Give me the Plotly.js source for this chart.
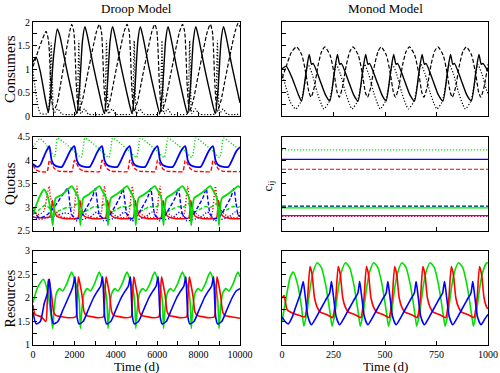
<!DOCTYPE html>
<html><head><meta charset="utf-8">
<script src="https://cdn.plot.ly/plotly-3.0.1.min.js"></script>
<style>html,body{margin:0;padding:0;background:#fff}#c{width:500px;height:373px}</style>
</head><body><div id="c"></div>
<script>
// ---------- Droop model: consumers ----------
const droopConsDashT=[0,300,630,750,900,1000,1150,1400,1650,1800,
1870,1970,2100,2200,2370,2620,2870,3070,
3205,3305,3435,3535,3705,3955,4205,4405,
4545,4645,4775,4875,5045,5295,5545,5745,
5885,5985,6115,6215,6385,6635,6885,7085,
7225,7325,7455,7555,7725,7975,8225,8425,
8565,8665,8795,8895,9065,9315,9565,9765,
9905,10000];
const droopConsDash=[1.05,1.45,1.8,1.6,0.35,0.12,0.25,0.85,1.5,1.85,
1.95,1.8,0.6,0.1,0.3,0.85,1.4,1.8,
1.95,1.8,0.6,0.1,0.3,0.85,1.4,1.8,
1.95,1.8,0.6,0.1,0.3,0.85,1.4,1.8,
1.95,1.8,0.6,0.1,0.3,0.85,1.4,1.8,
1.95,1.8,0.6,0.1,0.3,0.85,1.4,1.8,
1.95,1.8,0.6,0.1,0.3,0.85,1.4,1.8,
1.97,1.9];
const droopConsSolidT=[0,150,350,600,740,850,1000,1175,1300,1600,1900,
2110,2250,2390,2510,2630,2920,3220,
3445,3585,3725,3845,3965,4255,4555,
4785,4925,5065,5185,5305,5595,5895,
6125,6265,6405,6525,6645,6935,7235,
7465,7605,7745,7865,7985,8275,8575,
8805,8945,9085,9205,9325,9615,9915,
10000];
const droopConsSolid=[1.15,1.25,0.95,0.35,0.08,0.45,1.3,1.85,1.7,1.05,0.45,
0.05,0.6,1.6,1.9,1.7,1.05,0.45,
0.05,0.6,1.6,1.9,1.7,1.05,0.45,
0.05,0.6,1.6,1.9,1.7,1.05,0.45,
0.05,0.6,1.6,1.9,1.7,1.05,0.45,
0.05,0.6,1.6,1.9,1.7,1.05,0.45,
0.05,0.6,1.6,1.9,1.7,1.05,0.45,
0.28];
const droopConsDotT=[0,150,350,700,820,880,940,1010,1200,1400,1700,
2110,2170,2215,2260,2320,2490,2670,2970,
3445,3505,3550,3595,3655,3825,4005,4305,
4785,4845,4890,4935,4995,5165,5345,5645,
6125,6185,6230,6275,6335,6505,6685,6985,
7465,7525,7570,7615,7675,7845,8025,8325,
8805,8865,8910,8955,9015,9185,9365,9665,
10000];
const droopConsDot=[0.95,0.45,0.06,0.05,0.7,1.55,0.7,0.06,0.15,0.04,0.03,
0.05,0.7,1.6,0.7,0.05,0.15,0.04,0.03,
0.05,0.7,1.6,0.7,0.05,0.15,0.04,0.03,
0.05,0.7,1.6,0.7,0.05,0.15,0.04,0.03,
0.05,0.7,1.6,0.7,0.05,0.15,0.04,0.03,
0.05,0.7,1.6,0.7,0.05,0.15,0.04,0.03,
0.05,0.7,1.6,0.7,0.05,0.15,0.04,0.03,
0.04];

// ---------- Droop model: quotas ----------
const qBlueSolidT=[0,200,350,500,650,790,900,1030,1250,1400,1600,1800,
2000,2120,2250,2500,2740,2940,3140,
3335,3455,3585,3835,4075,4275,4475,
4675,4795,4925,5175,5415,5615,5815,
6015,6135,6265,6515,6755,6955,7155,
7355,7475,7605,7855,8095,8295,8495,
8695,8815,8945,9195,9435,9635,9835,
10000];
const qBlueSolid=[3.92,3.86,3.9,4.05,4.2,4.3,4.0,3.9,3.86,3.86,4.02,4.2,
4.3,4.0,3.9,3.86,3.86,4.02,4.2,
4.3,4.0,3.9,3.86,3.86,4.02,4.2,
4.3,4.0,3.9,3.86,3.86,4.02,4.2,
4.3,4.0,3.9,3.86,3.86,4.02,4.2,
4.3,4.0,3.9,3.86,3.86,4.02,4.2,
4.3,4.0,3.9,3.86,3.86,4.02,4.2,
4.28];
const qRedDashT=[0,150,350,680,790,850,1040,1240,1700,
1880,2000,2060,2250,2450,2900,
3215,3335,3395,3585,3785,4235,
4555,4675,4735,4925,5125,5575,
5895,6015,6075,6265,6465,6915,
7235,7355,7415,7605,7805,8255,
8575,8695,8755,8945,9145,9595,
10000];
const qRedDash=[3.9,3.8,3.76,3.76,4.0,3.97,3.82,3.77,3.76,
3.76,4.0,3.97,3.82,3.77,3.76,
3.76,4.0,3.97,3.82,3.77,3.76,
3.76,4.0,3.97,3.82,3.77,3.76,
3.76,4.0,3.97,3.82,3.77,3.76,
3.76,4.0,3.97,3.82,3.77,3.76,
3.76,4.0,3.97,3.82,3.77,3.76,
3.76];
const qGreenDotT=[0,330,600,900,1050,1120,
1175,1575,1975,2325,2425,
2510,2910,3310,3660,3760,
3845,4245,4645,4995,5095,
5185,5585,5985,6335,6435,
6525,6925,7325,7675,7775,
7865,8265,8665,9015,9115,
9205,9605,10000];
const qGreenDot=[4.28,4.46,4.35,4.15,4.08,4.3,
4.47,4.35,4.2,4.06,4.25,
4.47,4.35,4.2,4.06,4.25,
4.47,4.35,4.2,4.06,4.25,
4.47,4.35,4.2,4.06,4.25,
4.47,4.35,4.2,4.06,4.25,
4.47,4.35,4.2,4.06,4.25,
4.47,4.35,4.22];
const qGreenSolidT=[0,200,400,535,700,870,955,1005,1100,1400,1650,
1870,2020,2170,2250,2290,2340,2430,2670,2970,
3205,3355,3505,3585,3625,3675,3765,4005,4305,
4545,4695,4845,4925,4965,5015,5105,5345,5645,
5885,6035,6185,6265,6305,6355,6445,6685,6985,
7225,7375,7525,7605,7645,7695,7785,8025,8325,
8565,8715,8865,8945,8985,9035,9125,9365,9665,
9905,10000];
const qGreenSolid=[2.85,3.1,3.3,3.38,3.25,2.9,2.62,2.95,3.2,3.27,3.37,
3.45,3.35,3.22,2.9,2.62,2.95,3.2,3.27,3.37,
3.45,3.35,3.22,2.9,2.62,2.95,3.2,3.27,3.37,
3.45,3.35,3.22,2.9,2.62,2.95,3.2,3.27,3.37,
3.45,3.35,3.22,2.9,2.62,2.95,3.2,3.27,3.37,
3.45,3.35,3.22,2.9,2.62,2.95,3.2,3.27,3.37,
3.45,3.35,3.22,2.9,2.62,2.95,3.2,3.27,3.37,
3.45,3.42];
const qBlueDashT=[0,300,700,1100,1400,1675,1775,
1870,2070,2270,2570,2870,3010,3110,
3205,3405,3605,3905,4205,4345,4445,
4545,4745,4945,5245,5545,5685,5785,
5885,6085,6285,6585,6885,7025,7125,
7225,7425,7625,7925,8225,8365,8465,
8565,8765,8965,9265,9565,9705,9805,
9905,10000];
const qBlueDash=[2.95,2.78,2.85,3.05,3.25,3.4,3.1,
2.85,2.76,2.78,2.98,3.22,3.4,3.1,
2.85,2.76,2.78,2.98,3.22,3.4,3.1,
2.85,2.76,2.78,2.98,3.22,3.4,3.1,
2.85,2.76,2.78,2.98,3.22,3.4,3.1,
2.85,2.76,2.78,2.98,3.22,3.4,3.1,
2.85,2.76,2.78,2.98,3.22,3.4,3.1,
2.85,2.8];
const qRedDotT=[0,200,500,700,780,850,1050,1300,1600,
1870,1970,2070,2120,2190,2370,2670,2970,
3205,3305,3405,3455,3525,3705,4005,4305,
4545,4645,4745,4795,4865,5045,5345,5645,
5885,5985,6085,6135,6205,6385,6685,6985,
7225,7325,7425,7475,7545,7725,8025,8325,
8565,8665,8765,8815,8885,9065,9365,9665,
9905,10000];
const qRedDot=[3.0,2.85,2.9,3.3,3.45,3.2,2.95,2.82,2.78,
2.8,2.9,3.3,3.45,3.2,2.95,2.82,2.78,
2.8,2.9,3.3,3.45,3.2,2.95,2.82,2.78,
2.8,2.9,3.3,3.45,3.2,2.95,2.82,2.78,
2.8,2.9,3.3,3.45,3.2,2.95,2.82,2.78,
2.8,2.9,3.3,3.45,3.2,2.95,2.82,2.78,
2.8,2.9,3.3,3.45,3.2,2.95,2.82,2.78,
2.8,2.9];
const qRedSolidT=[0,300,800,900,940,1020,1140,1440,
1870,2170,2230,2270,2350,2470,2770,
3205,3505,3565,3605,3685,3805,4105,
4545,4845,4905,4945,5025,5145,5445,
5885,6185,6245,6285,6365,6485,6785,
7225,7525,7585,7625,7705,7825,8125,
8565,8865,8925,8965,9045,9165,9465,
9905,10000];
const qRedSolid=[2.8,2.78,2.8,3.0,3.15,2.95,2.82,2.77,
2.76,2.78,3.0,3.15,2.95,2.82,2.77,
2.76,2.78,3.0,3.15,2.95,2.82,2.77,
2.76,2.78,3.0,3.15,2.95,2.82,2.77,
2.76,2.78,3.0,3.15,2.95,2.82,2.77,
2.76,2.78,3.0,3.15,2.95,2.82,2.77,
2.76,2.78,3.0,3.15,2.95,2.82,2.77,
2.76,2.76];
const qGreenDashT=[0,300,600,850,955,1050,1350,1650,
1870,2170,2250,2290,2370,2670,2970,
3205,3505,3585,3625,3705,4005,4305,
4545,4845,4925,4965,5045,5345,5645,
5885,6185,6265,6305,6385,6685,6985,
7225,7525,7605,7645,7725,8025,8325,
8565,8865,8945,8985,9065,9365,9665,
9905,10000];
const qGreenDash=[2.85,2.95,3.05,2.95,2.75,2.88,2.95,3.0,
3.0,3.08,2.95,2.75,2.88,2.95,3.02,
3.0,3.08,2.95,2.75,2.88,2.95,3.02,
3.0,3.08,2.95,2.75,2.88,2.95,3.02,
3.0,3.08,2.95,2.75,2.88,2.95,3.02,
3.0,3.08,2.95,2.75,2.88,2.95,3.02,
3.0,3.08,2.95,2.75,2.88,2.95,3.02,
3.0,3.02];
const qBlueDotT=[0,300,700,1100,1500,
1870,2070,2370,2770,3070,
3205,3405,3705,4105,4405,
4545,4745,5045,5445,5745,
5885,6085,6385,6785,7085,
7225,7425,7725,8125,8425,
8565,8765,9065,9465,9765,
9905,10000];
const qBlueDot=[2.8,2.75,2.78,2.82,2.88,
2.85,2.72,2.74,2.8,2.9,
2.85,2.72,2.74,2.8,2.9,
2.85,2.72,2.74,2.8,2.9,
2.85,2.72,2.74,2.8,2.9,
2.85,2.72,2.74,2.8,2.9,
2.85,2.72,2.74,2.8,2.9,
2.85,2.8];

// ---------- Droop model: resources ----------
const rGreenT=[0,200,500,700,880,950,1030,1130,1280,1430,1630,1780,
1870,2020,2170,2240,2290,2370,2470,2620,2770,2970,3120,
3205,3355,3505,3575,3625,3705,3805,3955,4105,4305,4455,
4545,4695,4845,4915,4965,5045,5145,5295,5445,5645,5795,
5885,6035,6185,6255,6305,6385,6485,6635,6785,6985,7135,
7225,7375,7525,7595,7645,7725,7825,7975,8125,8325,8475,
8565,8715,8865,8935,8985,9065,9165,9315,9465,9665,9815,
9905,10000];
const rGreen=[1.9,2.2,2.4,2.15,1.6,1.35,1.8,2.1,2.2,2.15,2.3,2.48,
2.55,2.38,2.15,1.9,1.35,1.8,2.1,2.2,2.15,2.3,2.48,
2.55,2.38,2.15,1.9,1.35,1.8,2.1,2.2,2.15,2.3,2.48,
2.55,2.38,2.15,1.9,1.35,1.8,2.1,2.2,2.15,2.3,2.48,
2.55,2.38,2.15,1.9,1.35,1.8,2.1,2.2,2.15,2.3,2.48,
2.55,2.38,2.15,1.9,1.35,1.8,2.1,2.2,2.15,2.3,2.48,
2.55,2.38,2.15,1.9,1.35,1.8,2.1,2.2,2.15,2.3,2.48,
2.55,2.45];
const rRedT=[0,100,400,620,690,740,810,900,1000,1100,1400,1700,
2070,2130,2195,2270,2370,2470,2570,2870,3170,
3405,3465,3530,3605,3705,3805,3905,4205,4505,
4745,4805,4870,4945,5045,5145,5245,5545,5845,
6085,6145,6210,6285,6385,6485,6585,6885,7185,
7425,7485,7550,7625,7725,7825,7925,8225,8525,
8765,8825,8890,8965,9065,9165,9265,9565,9865,
10000];
const rRed=[1.85,1.65,1.6,1.5,1.95,2.4,2.3,2.05,1.7,1.63,1.6,1.58,
1.6,2.0,2.45,2.3,2.05,1.7,1.63,1.6,1.58,
1.6,2.0,2.45,2.3,2.05,1.7,1.63,1.6,1.58,
1.6,2.0,2.45,2.3,2.05,1.7,1.63,1.6,1.58,
1.6,2.0,2.45,2.3,2.05,1.7,1.63,1.6,1.58,
1.6,2.0,2.45,2.3,2.05,1.7,1.63,1.6,1.58,
1.6,2.0,2.45,2.3,2.05,1.7,1.63,1.6,1.58,
1.57];
const rBlueT=[0,150,350,550,700,760,800,850,920,1000,1200,1450,1700,1850,
1930,2000,2030,2070,2130,2220,2420,2670,2920,3120,
3265,3335,3365,3405,3465,3555,3755,4005,4255,4455,
4605,4675,4705,4745,4805,4895,5095,5345,5595,5795,
5945,6015,6045,6085,6145,6235,6435,6685,6935,7135,
7285,7355,7385,7425,7485,7575,7775,8025,8275,8475,
8625,8695,8725,8765,8825,8915,9115,9365,9615,9815,
10000];
const rBlue=[1.7,1.45,1.5,1.9,2.1,2.35,2.4,1.9,1.55,1.45,1.5,1.75,2.0,2.15,
2.25,2.4,2.45,2.1,1.6,1.45,1.5,1.75,2.0,2.15,
2.25,2.4,2.45,2.1,1.6,1.45,1.5,1.75,2.0,2.15,
2.25,2.4,2.45,2.1,1.6,1.45,1.5,1.75,2.0,2.15,
2.25,2.4,2.45,2.1,1.6,1.45,1.5,1.75,2.0,2.15,
2.25,2.4,2.45,2.1,1.6,1.45,1.5,1.75,2.0,2.15,
2.25,2.4,2.45,2.1,1.6,1.45,1.5,1.75,2.0,2.15,
2.2];

// ---------- Monod model: consumers ----------
const monConsDashT=[0,20,45,
71,96,116,131,141,156,176,193,
208,233,253,268,278,293,313,330,
345,370,390,405,415,430,450,467,
481,506,526,541,551,566,586,603,
619,644,664,679,689,704,724,741,
757,782,802,817,827,842,862,879,
895,920,940,955,965,980,1000];
const monConsDash=[0.8,1.05,1.35,
1.47,1.3,0.9,0.5,0.4,0.6,1.1,1.38,
1.47,1.3,0.9,0.5,0.4,0.6,1.1,1.38,
1.47,1.3,0.9,0.5,0.4,0.6,1.1,1.38,
1.47,1.3,0.9,0.5,0.4,0.6,1.1,1.38,
1.47,1.3,0.9,0.5,0.4,0.6,1.1,1.38,
1.47,1.3,0.9,0.5,0.4,0.6,1.1,1.38,
1.47,1.3,0.9,0.5,0.4,0.6,1.1];
const monConsSolidT=[0,20,50,80,
95,116,132,143,151,181,211,
232,253,269,280,288,318,348,
369,390,406,417,425,455,485,
505,526,542,553,561,591,621,
643,664,680,691,699,729,759,
781,802,818,829,837,867,897,
919,940,956,967,975,1000];
const monConsSolid=[1.0,1.06,0.8,0.45,
0.32,0.9,1.31,1.1,1.12,0.8,0.45,
0.32,0.9,1.31,1.1,1.12,0.8,0.45,
0.32,0.9,1.31,1.1,1.12,0.8,0.45,
0.32,0.9,1.31,1.1,1.12,0.8,0.45,
0.32,0.9,1.31,1.1,1.12,0.8,0.45,
0.32,0.9,1.31,1.1,1.12,0.8,0.45,
0.32,0.9,1.31,1.1,1.12,0.95];
const monConsDotT=[0,20,40,
66,91,111,126,146,171,191,
203,228,248,263,283,308,328,
340,365,385,400,420,445,465,
476,501,521,536,556,581,601,
614,639,659,674,694,719,739,
752,777,797,812,832,857,877,
890,915,935,950,970,995,1000];
const monConsDot=[0.9,0.6,0.3,
0.15,0.3,0.7,1.1,0.9,0.5,0.25,
0.15,0.3,0.7,1.1,0.9,0.5,0.25,
0.15,0.3,0.7,1.1,0.9,0.5,0.25,
0.15,0.3,0.7,1.1,0.9,0.5,0.25,
0.15,0.3,0.7,1.1,0.9,0.5,0.25,
0.15,0.3,0.7,1.1,0.9,0.5,0.25,
0.15,0.3,0.7,1.1,0.9,0.52,0.48];

// ---------- Monod model: c_ij (constant) ----------
const cijNames=['greenDot','blueSolid','redDash','blueDash','greenSolid','greenDash','redDot','blueDot','redSolid'];
const cijValues=[4.22,4.02,3.81,3.03,2.99,3.02,2.82,2.815,2.825];

// ---------- Monod model: resources ----------
const monResRedT=[0,10,25,50,90,
111,124,136,146,158,171,186,216,246,
248,261,273,283,295,308,323,353,383,
385,398,410,420,432,445,460,490,520,
522,535,547,557,569,582,597,627,657,
659,672,684,694,706,719,734,764,794,
797,810,822,832,844,857,872,902,932,
934,947,959,969,981,994,1000];
const monResRed=[2.0,2.05,1.75,1.68,1.62,
1.6,2.0,2.67,2.5,2.0,1.8,1.7,1.65,1.58,
1.6,2.0,2.67,2.5,2.0,1.8,1.7,1.65,1.58,
1.6,2.0,2.67,2.5,2.0,1.8,1.7,1.65,1.58,
1.6,2.0,2.67,2.5,2.0,1.8,1.7,1.65,1.58,
1.6,2.0,2.67,2.5,2.0,1.8,1.7,1.65,1.58,
1.6,2.0,2.67,2.5,2.0,1.8,1.7,1.65,1.58,
1.6,2.0,2.67,2.5,2.0,1.8,1.77];
const monResBlueT=[0,15,30,50,70,90,
103,111,126,143,161,186,211,231,
240,248,263,280,298,323,348,368,
377,385,400,417,435,460,485,505,
514,522,537,554,572,597,622,642,
651,659,674,691,709,734,759,779,
789,797,812,829,847,872,897,917,
926,934,949,966,984,1000];
const monResBlue=[1.6,1.5,1.45,1.6,1.85,2.1,
2.35,2.1,1.6,1.43,1.55,1.75,1.95,2.1,
2.35,2.1,1.6,1.43,1.55,1.75,1.95,2.1,
2.35,2.1,1.6,1.43,1.55,1.75,1.95,2.1,
2.35,2.1,1.6,1.43,1.55,1.75,1.95,2.1,
2.35,2.1,1.6,1.43,1.55,1.75,1.95,2.1,
2.35,2.1,1.6,1.43,1.55,1.75,1.95,2.1,
2.35,2.1,1.6,1.43,1.55,1.65];
const monResGreenT=[0,20,40,55,75,95,
106,121,136,151,171,191,211,226,236,
243,258,273,288,308,328,348,363,373,
380,395,410,425,445,465,485,500,510,
517,532,547,562,582,602,622,637,647,
654,669,684,699,719,739,759,774,784,
792,807,822,837,857,877,897,912,922,
929,944,959,974,994,1000];
const monResGreen=[1.5,2.0,2.45,2.55,2.3,1.8,
1.4,1.7,2.2,2.55,2.75,2.65,2.3,1.9,1.6,
1.4,1.7,2.2,2.55,2.75,2.65,2.3,1.9,1.6,
1.4,1.7,2.2,2.55,2.75,2.65,2.3,1.9,1.6,
1.4,1.7,2.2,2.55,2.75,2.65,2.3,1.9,1.6,
1.4,1.7,2.2,2.55,2.75,2.65,2.3,1.9,1.6,
1.4,1.7,2.2,2.55,2.75,2.65,2.3,1.9,1.6,
1.4,1.7,2.2,2.55,2.75,2.74];

// ---------- tick labels ----------
const consTickVals=[0,0.25,0.5,0.75,1,1.25,1.5,1.75,2];
const consTickText=['0','','0.5','','1','','1.5','','2'];
const quotaTickVals=[2.5,2.75,3,3.25,3.5,3.75,4,4.25,4.5];
const quotaTickText=['2.5','','3','','3.5','','4','','4.5'];
const resTickVals=[1,1.25,1.5,1.75,2,2.25,2.5,2.75,3];
const resTickText=['1','','1.5','','2','','2.5','','3'];
const droopTimeTickVals=[0,1000,2000,3000,4000,5000,6000,7000,8000,9000,10000];
const droopTimeTickText=['0','','2000','','4000','','6000','','8000','','10000'];
const monodTimeTickVals=[0,250,500,750,1000];
const monodTimeTickText=['0','250','500','750','1000'];

// ---------- build ----------
const RED='#ff0000', GREEN='#00e000', BLUE='#0000ff', BLACK='#000000';
const DASH='4px,2px', DOT='1.2px,1.8px';
function tr(x,y,color,dash,xa,ya,w){
  const d = dash==='dash'?DASH:(dash==='dot'?DOT:'solid');
  return {x:x,y:y,xaxis:xa,yaxis:ya,mode:'lines',hoverinfo:'skip',
    line:{color:color,dash:d,width:w||1.4,shape:'spline',smoothing:0.6}};
}
const traces=[
  tr(droopConsDashT,droopConsDash,BLACK,'dash','x','y',1.2),
  tr(droopConsSolidT,droopConsSolid,BLACK,'solid','x','y',1.4),
  tr(droopConsDotT,droopConsDot,BLACK,'dot','x','y',1.2),
  tr(qGreenDotT,qGreenDot,GREEN,'dot','x3','y3'),
  tr(qRedDashT,qRedDash,RED,'dash','x3','y3'),
  tr(qBlueSolidT,qBlueSolid,BLUE,'solid','x3','y3',1.8),
  tr(qBlueDotT,qBlueDot,BLUE,'dot','x3','y3'),
  tr(qRedSolidT,qRedSolid,RED,'solid','x3','y3'),
  tr(qGreenDashT,qGreenDash,GREEN,'dash','x3','y3'),
  tr(qRedDotT,qRedDot,RED,'dot','x3','y3'),
  tr(qBlueDashT,qBlueDash,BLUE,'dash','x3','y3'),
  tr(qGreenSolidT,qGreenSolid,GREEN,'solid','x3','y3',1.8),
  tr(rGreenT,rGreen,GREEN,'solid','x5','y5',1.6),
  tr(rRedT,rRed,RED,'solid','x5','y5',1.6),
  tr(rBlueT,rBlue,BLUE,'solid','x5','y5',1.6),
  tr(monConsDashT,monConsDash,BLACK,'dash','x2','y2',1.2),
  tr(monConsSolidT,monConsSolid,BLACK,'solid','x2','y2',1.4),
  tr(monConsDotT,monConsDot,BLACK,'dot','x2','y2',1.2),
  tr(monResGreenT,monResGreen,GREEN,'solid','x6','y6',1.6),
  tr(monResRedT,monResRed,RED,'solid','x6','y6',1.6),
  tr(monResBlueT,monResBlue,BLUE,'solid','x6','y6',1.6)
];
const cijStyle={greenDot:[GREEN,'dot'],blueSolid:[BLUE,'solid'],redDash:[RED,'dash'],blueDash:[BLUE,'dash'],
  greenSolid:[GREEN,'solid'],greenDash:[GREEN,'dash'],redDot:[RED,'dot'],blueDot:[BLUE,'dot'],redSolid:[RED,'solid']};
const cijOrder=['greenSolid','redSolid','greenDash','blueDash','blueDot','redDot','redDash','blueSolid','greenDot'];
cijOrder.forEach(n=>{
  const v=cijValues[cijNames.indexOf(n)];
  traces.push(tr([0,1000],[v,v],cijStyle[n][0],cijStyle[n][1],'x4','y4',1.2));
});

const F='Times New Roman, Liberation Serif, serif';
const LX=[0.066,0.48], RX=[0.564,0.976];
const TY=[0.689,0.941], MY=[0.3807,0.6335], BY=[0.0751,0.3271];
function ax(dom,anchor,range,vals,text,show){
  return {domain:dom,anchor:anchor,range:range,tickmode:'array',tickvals:vals,ticktext:text,
    showticklabels:show,ticks:'inside',ticklen:4,tickcolor:'#000',showline:true,mirror:true,
    linecolor:'#000',linewidth:1,showgrid:false,zeroline:false,tickfont:{family:F,size:10,color:'#000'}};
}
const blankC=consTickVals.map(()=>''), blankQ=quotaTickVals.map(()=>''), blankR=resTickVals.map(()=>'');
function ann(text,x,y,size,angle){
  return {text:text,x:x,y:y,xref:'paper',yref:'paper',xanchor:'center',yanchor:'middle',
    showarrow:false,textangle:angle||0,font:{family:F,size:size,color:'#000'}};
}
const layout={
  width:500,height:373,margin:{l:0,r:0,t:0,b:0},paper_bgcolor:'#fff',plot_bgcolor:'#fff',
  showlegend:false,font:{family:F,color:'#000'},
  xaxis:ax(LX,'y',[0,10000],droopTimeTickVals,droopTimeTickText,false),
  yaxis:ax(TY,'x',[0,2],consTickVals,consTickText,true),
  xaxis2:ax(RX,'y2',[0,1000],monodTimeTickVals,monodTimeTickText,false),
  yaxis2:ax(TY,'x2',[0,2],consTickVals,blankC,false),
  xaxis3:ax(LX,'y3',[0,10000],droopTimeTickVals,droopTimeTickText,false),
  yaxis3:ax(MY,'x3',[2.5,4.5],quotaTickVals,quotaTickText,true),
  xaxis4:ax(RX,'y4',[0,1000],monodTimeTickVals,monodTimeTickText,false),
  yaxis4:ax(MY,'x4',[2.5,4.5],quotaTickVals,blankQ,false),
  xaxis5:ax(LX,'y5',[0,10000],droopTimeTickVals,droopTimeTickText,true),
  yaxis5:ax(BY,'x5',[1,3],resTickVals,resTickText,true),
  xaxis6:ax(RX,'y6',[0,1000],monodTimeTickVals,monodTimeTickText,true),
  yaxis6:ax(BY,'x6',[1,3],resTickVals,blankR,false),
  annotations:[
    ann('Droop Model',0.273,0.976,13),
    ann('Monod Model',0.77,0.976,13),
    ann('Consumers',0.02,0.815,15,-90),
    ann('Quotas',0.02,0.507,15,-90),
    ann('Resources',0.02,0.2,14,-90),
    ann('c<sub>ij</sub>',0.536,0.5,13,-90),
    ann('Time (d)',0.273,0.017,13),
    ann('Time (d)',0.77,0.017,13)
  ]
};
Plotly.newPlot('c',traces,layout,{staticPlot:true,displayModeBar:false});
</script></body></html>
